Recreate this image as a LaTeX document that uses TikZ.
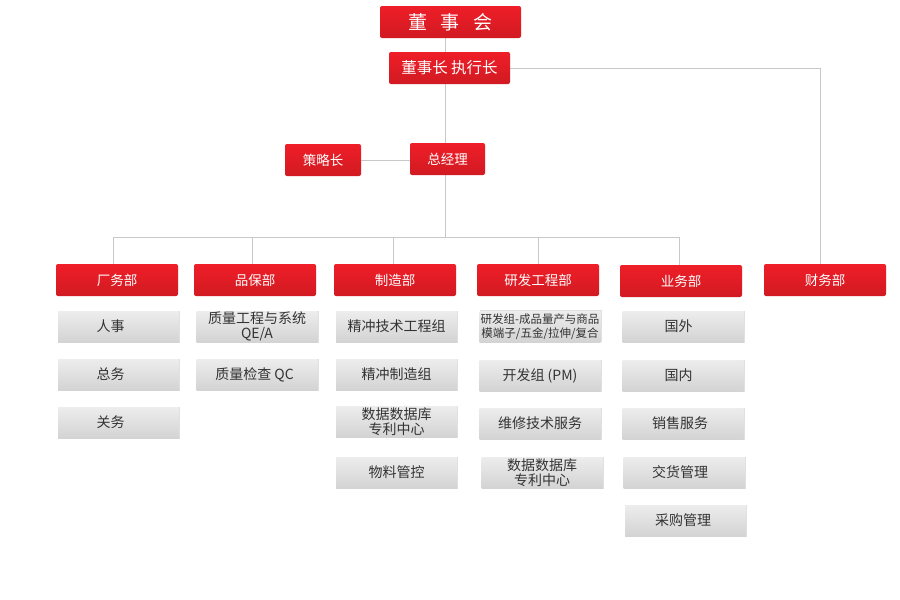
\documentclass[tikz,border=0pt]{standalone}
\usepackage{fontspec}
\setmainfont{Noto Sans CJK SC}
\usetikzlibrary{backgrounds}
\definecolor{rtop}{HTML}{EF1E28}
\definecolor{rbot}{HTML}{D11A22}
\definecolor{gtop}{HTML}{EDEDED}
\definecolor{gbot}{HTML}{D3D3D3}
\definecolor{gtext}{HTML}{333333}
\definecolor{linec}{HTML}{C8C8C8}
\tikzset{
  redbox/.style={rounded corners=2pt, top color=rtop, bottom color=rbot, draw=none,
    text=white, minimum height=32pt, inner sep=0pt, font=\fontsize{13.5}{15}\selectfont},
  deptbox/.style={redbox, minimum width=122pt},
  graybox/.style={top color=gtop, bottom color=gbot, draw=none, minimum width=121pt,
    minimum height=31pt, inner sep=0pt, text=gtext, align=center,
    font=\fontsize{14}{15}\selectfont},
  shadowbox/.style={fill=black!12, draw=none, minimum width=122pt, minimum height=32pt},
  conn/.style={draw=linec, line width=0.8pt}
}
\newcommand{\gbox}[3]{%
  \node[shadowbox] at ([xshift=0.8pt,yshift=-0.8pt]#2) {};
  \node[graybox] (#1) at (#2) {#3};}
\begin{document}
\begin{tikzpicture}[x=1pt,y=-1pt]
\path[use as bounding box] (0,0) rectangle (900,600);

% top chain
\node[redbox, minimum width=141pt, font=\fontsize{19}{21}\selectfont] (dsh) at (450.5,22) {董\hspace{0.7em}事\hspace{0.7em}会};
\node[redbox, minimum width=121pt, font=\fontsize{15.5}{17}\selectfont] (dsz) at (449.5,68) {董事长 执行长};
\node[redbox, minimum width=76pt] (clz) at (323,160) {策略长};
\node[redbox, minimum width=75pt] (zjl) at (447.5,159) {总经理};

% departments
\node[deptbox] (d1) at (117,280) {厂务部};
\node[deptbox] (d2) at (255,280) {品保部};
\node[deptbox] (d3) at (395,280) {制造部};
\node[deptbox] (d4) at (538,280) {研发工程部};
\node[deptbox] (d5) at (681,281) {业务部};
\node[deptbox] (d6) at (825,280) {财务部};

% gray sub boxes
\gbox{a1}{118.5,326.5}{人事\hspace{16pt}}
\gbox{a2}{118.5,374.5}{总务\hspace{16pt}}
\gbox{a3}{118.5,422.5}{关务\hspace{16pt}}

\gbox{b1}{257,326.5}{质量工程与系统\\QE/A}
\gbox{b2}{257,374.5}{质量检查 QC\hspace{5pt}}

\gbox{c1}{396.5,326.5}{精冲技术工程组}
\gbox{c2}{396.5,374.5}{精冲制造组}
\gbox{c3}{396.5,421.5}{数据数据库\\专利中心}
\gbox{c4}{396.5,472.5}{物料管控}

\node[shadowbox] at (540.8,326) {};
\node[graybox, font=\fontsize{11.5}{14}\selectfont] (e1) at (540,326.5) {研发组-成品量产与商品\\模端子/五金/拉伸/复合};
\gbox{e2}{540,375.5}{开发组 (PM)}
\gbox{e3}{540,423.5}{维修技术服务}
\gbox{e4}{542,472.5}{数据数据库\\专利中心}

\gbox{f1}{683,326.5}{国外\hspace{9pt}}
\gbox{f2}{683,375.5}{国内\hspace{9pt}}
\gbox{f3}{683,423.5}{销售服务\hspace{6pt}}
\gbox{f4}{684,472.5}{交货管理\hspace{8pt}}
\gbox{f5}{685.5,520.5}{采购管理\hspace{5pt}}

% connectors
\coordinate (spine) at (445,0);
\coordinate (bus) at (445,237);
\coordinate (x1) at (113,237);
\coordinate (x2) at (252,237);
\coordinate (x3) at (393,237);
\coordinate (x4) at (538,237);
\coordinate (x5) at (679,237);
\coordinate (fr) at (820,68);
\begin{scope}[on background layer]
\fill[white] (0,0) rectangle (900,600);
\draw[conn] (dsh.south -| spine) -- (zjl.north -| spine);
\draw[conn] (zjl.south -| spine) -- (bus);
\draw[conn] (x1) -- (x5);
\draw[conn] (x1) -- (d1.north -| x1);
\draw[conn] (x2) -- (d2.north -| x2);
\draw[conn] (x3) -- (d3.north -| x3);
\draw[conn] (x4) -- (d4.north -| x4);
\draw[conn] (x5) -- (d5.north -| x5);
\draw[conn] (dsz.east) -- (fr) -- (d6.north -| fr);
\draw[conn] (clz.east) -- (clz.east -| zjl.west);
\end{scope}
\end{tikzpicture}
\end{document}
